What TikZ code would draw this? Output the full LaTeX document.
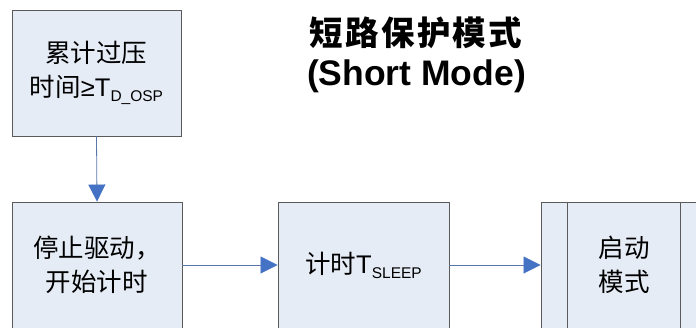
\documentclass[tikz,border=0pt]{standalone}
\usepackage{fontspec}
\setmainfont{Liberation Sans}
\newfontfamily\cjk{Noto Sans CJK SC}
\newfontfamily\cjkt[LetterSpace=7]{Noto Sans CJK SC}
\usetikzlibrary{arrows.meta}
\definecolor{boxfill}{HTML}{E6ECF6}
\definecolor{boxline}{HTML}{5A5A5A}
\definecolor{arrline}{HTML}{5878AA}
\definecolor{arrhead}{HTML}{4472C4}
\tikzset{
  box/.style={draw=boxline, fill=boxfill, line width=0.9pt, minimum height=126pt, inner sep=0pt, align=center, font=\fontsize{25.5}{34}\selectfont},
  arr/.style={draw=arrline, line width=0.8pt, -{Triangle[length=17pt,width=17pt,fill=arrhead,color=arrhead]}},
  ttl/.style={inner sep=0pt, font=\bfseries\fontsize{35.5}{38}\selectfont}
}
\newcommand{\sbt}[1]{\raisebox{-0.2em}{\fontsize{15.5}{15.5}\selectfont #1}}
\begin{document}
\begin{tikzpicture}[x=1pt,y=-1pt]
\useasboundingbox (0,0) rectangle (696,327);
\clip (0,0) rectangle (696,327);
\node[box, minimum width=169pt] (b1) at (96.5,73) {{\cjk 累计过压}\\{\cjk 时间}≥T\sbt{D\_OSP}};
\node[box, minimum width=170pt] (b2) at (97,265) {{\cjk 停止驱动，}\\{\cjk 开始计时}};
\node[box, minimum width=171pt] (b3) at (363.5,265) {{\cjk 计时}T\sbt{SLEEP}};
\node[box, minimum width=166pt] (b4) at (624,265) {{\cjk 启动}\\{\cjk 模式}};
\draw[draw=boxline, line width=0.9pt] ([xshift=27pt]b4.north west) -- ([xshift=27pt]b4.south west);
\draw[draw=boxline, line width=0.9pt] ([xshift=-27pt]b4.north east) -- ([xshift=-27pt]b4.south east);
\node[ttl] (t1) at (416,33) {\cjkt\bfseries\fontsize{33.5}{36}\selectfont 短路保护模式};
\node[ttl] (t2) at (416.5,76) {(Short Mode)};
\draw[arr] (b1.south) -- (b2.north);
\draw[arr] (b2.east) -- (b3.west);
\draw[arr] (b3.east) -- (b4.west);
\end{tikzpicture}
\end{document}
